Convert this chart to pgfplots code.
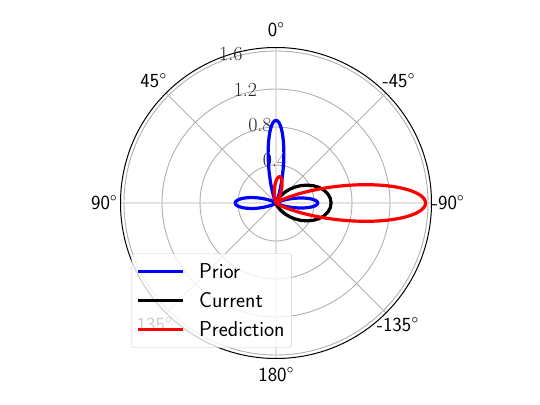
\documentclass[border=0pt]{standalone}
\usepackage{fontspec}
\usepackage{pgfplots}
\pgfplotsset{compat=1.18}
\usepgfplotslibrary{polar}
\begin{document}
\begin{tikzpicture}
\begin{polaraxis}[
  scale only axis, width=311bp, height=311bp,
  ymin=0, ymax=1.637,
  xtick={0,45,...,315}, xticklabels={},
  ytick={0.4,0.8,1.2,1.6}, yticklabels={},
  grid=major,
  major grid style={color=gray!62, line width=0.9bp},
  x axis line style={black, line width=1bp},
  y axis line style={draw=none},
  major tick length=0pt,
  clip=false,
  legend cell align=left,
  legend style={at={(axis description cs:0.036,0.034)}, anchor=south west,
    draw=black!20, rounded corners=2.5bp, fill=white, fill opacity=0.8,
    draw opacity=1, text opacity=1,
    font=\fontsize{21.5bp}{25bp}\selectfont\sffamily,
    inner xsep=5bp, inner ysep=8bp, row sep=8.5bp, column sep=12bp},
  legend image code/.code={\draw[#1, line width=3.2bp] (0bp,0bp) -- (45bp,0bp);},
  every axis plot/.append style={line width=3.2bp, line join=round},
]
\coordinate (O) at (axis cs:0,0);
% theta labels
\begin{scope}[every node/.style={font=\fontsize{20bp}{24bp}\selectfont\sffamily, inner sep=0pt, anchor=center}]
\node at (axis cs:90,1.825) {0°};
\node at (axis cs:135,1.825) {45°};
\node at (axis cs:180,1.81) {90°};
\node at (axis cs:225,1.81) {135°};
\node at (axis cs:270,1.81) {180°};
\node at (axis cs:315,1.81) {-135°};
\node at (axis cs:0,1.81) {-90°};
\node at (axis cs:45,1.825) {-45°};
\end{scope}
% r labels
\begin{scope}[every node/.style={font=\fontsize{20bp}{24bp}\selectfont\rmfamily, inner sep=1.2bp, anchor=south west, text=black!85}]
\node at (axis cs:112.5,0.4) {0.4};
\node at (axis cs:112.5,0.8) {0.8};
\node at (axis cs:112.5,1.2) {1.2};
\node at (axis cs:112.5,1.6) {1.6};
\end{scope}
% Prior
\addplot[blue] coordinates {
(-45,0) (-40,0.0006) (-35,0.0030) (-30,0.0121) (-28,0.0195) (-25,0.0377) (-22,0.0665) (-20,0.0930) (-18,0.1254) (-16,0.1639) (-14,0.2071) (-12,0.2533) (-10,0.3001) (-8,0.3445) (-6,0.3835) (-4,0.4140) (-2,0.4333) (0,0.44) (2,0.4333) (4,0.4140) (6,0.3835) (8,0.3445) (10,0.3001) (12,0.2533) (14,0.2071) (16,0.1639) (18,0.1254) (20,0.0930) (22,0.0665) (25,0.0377) (28,0.0195) (30,0.0121) (35,0.0030) (40,0.0006) (45,0)
(55,0) (60,0.0028) (62,0.0060) (65,0.0170) (68,0.0423) (69,0.0557) (70,0.0723) (71,0.0925) (72,0.1169) (73,0.1456) (74,0.179) (75,0.217) (76,0.260) (77,0.308) (78,0.3595) (79,0.414) (80,0.472) (81,0.530) (82,0.588) (83,0.645) (84,0.698) (85,0.747) (86,0.789) (87,0.8235) (88,0.849) (89,0.8647) (90,0.870) (91,0.8647) (92,0.849) (93,0.8235) (94,0.789) (95,0.747) (96,0.698) (97,0.645) (98,0.588) (99,0.530) (100,0.472) (101,0.414) (102,0.3595) (103,0.308) (104,0.260) (105,0.217) (106,0.179) (107,0.1456) (108,0.1169) (109,0.0925) (110,0.0723) (111,0.0557) (112,0.0423) (115,0.0170) (118,0.0060) (120,0.0028) (125,0)
(130,0) (135,0.0004) (140,0.0021) (145,0.0080) (150,0.0242) (152,0.0356) (155,0.0602) (158,0.0948) (160,0.1240) (162,0.1575) (164,0.1951) (166,0.2352) (168,0.2764) (170,0.3166) (172,0.3536) (174,0.3852) (176,0.4095) (178,0.4248) (180,0.43) (182,0.4248) (184,0.4095) (186,0.3852) (188,0.3536) (190,0.3166) (192,0.2764) (194,0.2352) (196,0.1951) (198,0.1575) (200,0.1240) (202,0.0948) (205,0.0602) (208,0.0356) (210,0.0242) (215,0.0080) (220,0.0021) (225,0.0004) (230,0)
};
\addlegendentry{Prior}
% Current
\addplot[black] coordinates {
(-90,0) (-85,0.0004) (-80,0.0030) (-75,0.0101) (-70,0.0232) (-65,0.0438) (-60,0.0725) (-55,0.1094) (-50,0.1540) (-45,0.2051) (-40,0.2607) (-35,0.3188) (-30,0.3767) (-25,0.4318) (-20,0.4813) (-15,0.5227) (-10,0.5540) (-5,0.5734) (0,0.58) (5,0.5734) (10,0.5540) (15,0.5227) (20,0.4813) (25,0.4318) (30,0.3767) (35,0.3188) (40,0.2607) (45,0.2051) (50,0.1540) (55,0.1094) (60,0.0725) (65,0.0438) (70,0.0232) (75,0.0101) (80,0.0030) (85,0.0004) (90,0)
};
\addlegendentry{Current}
% Prediction
\addplot[red] coordinates {
(-45,0) (-40,0.0026) (-35,0.0131) (-30,0.0499) (-28,0.0794) (-25,0.1486) (-22,0.2567) (-21,0.3026) (-20,0.3539) (-19,0.4105) (-18,0.4723) (-17,0.5390) (-16,0.6102) (-15,0.6854) (-14,0.7638) (-13,0.8446) (-12,0.9268) (-11,1.0092) (-10,1.0908) (-9,1.1699) (-8,1.2454) (-7,1.3161) (-6,1.3804) (-5,1.4373) (-4,1.4855) (-3,1.5240) (-2,1.5521) (-1,1.5693) (0,1.575) (1,1.5693) (2,1.5521) (3,1.5240) (4,1.4855) (5,1.4373) (6,1.3804) (7,1.3161) (8,1.2454) (9,1.1699) (10,1.0908) (11,1.0092) (12,0.9268) (13,0.8446) (14,0.7638) (15,0.6854) (16,0.6102) (17,0.5390) (18,0.4723) (19,0.4105) (20,0.3539) (21,0.3026) (22,0.2567) (25,0.1486) (28,0.0794) (30,0.0499) (35,0.0131) (40,0.0026) (45,0)
};
\addlegendentry{Prediction}
\addplot[red, forget plot] coordinates {
(37,0) (42,0.0014) (47,0.0052) (52,0.0158) (54,0.0232) (57,0.0392) (60,0.0617) (62,0.0807) (64,0.1026) (66,0.1271) (68,0.1532) (70,0.1800) (72,0.2061) (74,0.2302) (76,0.2509) (78,0.2667) (80,0.2766) (82,0.28) (84,0.2766) (86,0.2667) (88,0.2509) (90,0.2302) (92,0.2061) (94,0.1800) (96,0.1532) (98,0.1271) (100,0.1026) (102,0.0807) (104,0.0617) (107,0.0392) (110,0.0232) (112,0.0158) (117,0.0052) (122,0.0014) (127,0)
};
\end{polaraxis}
\pgfresetboundingbox
\path[use as bounding box] (O) ++(-276bp,-202bp) rectangle ++(540bp,405bp);
\end{tikzpicture}
\end{document}
